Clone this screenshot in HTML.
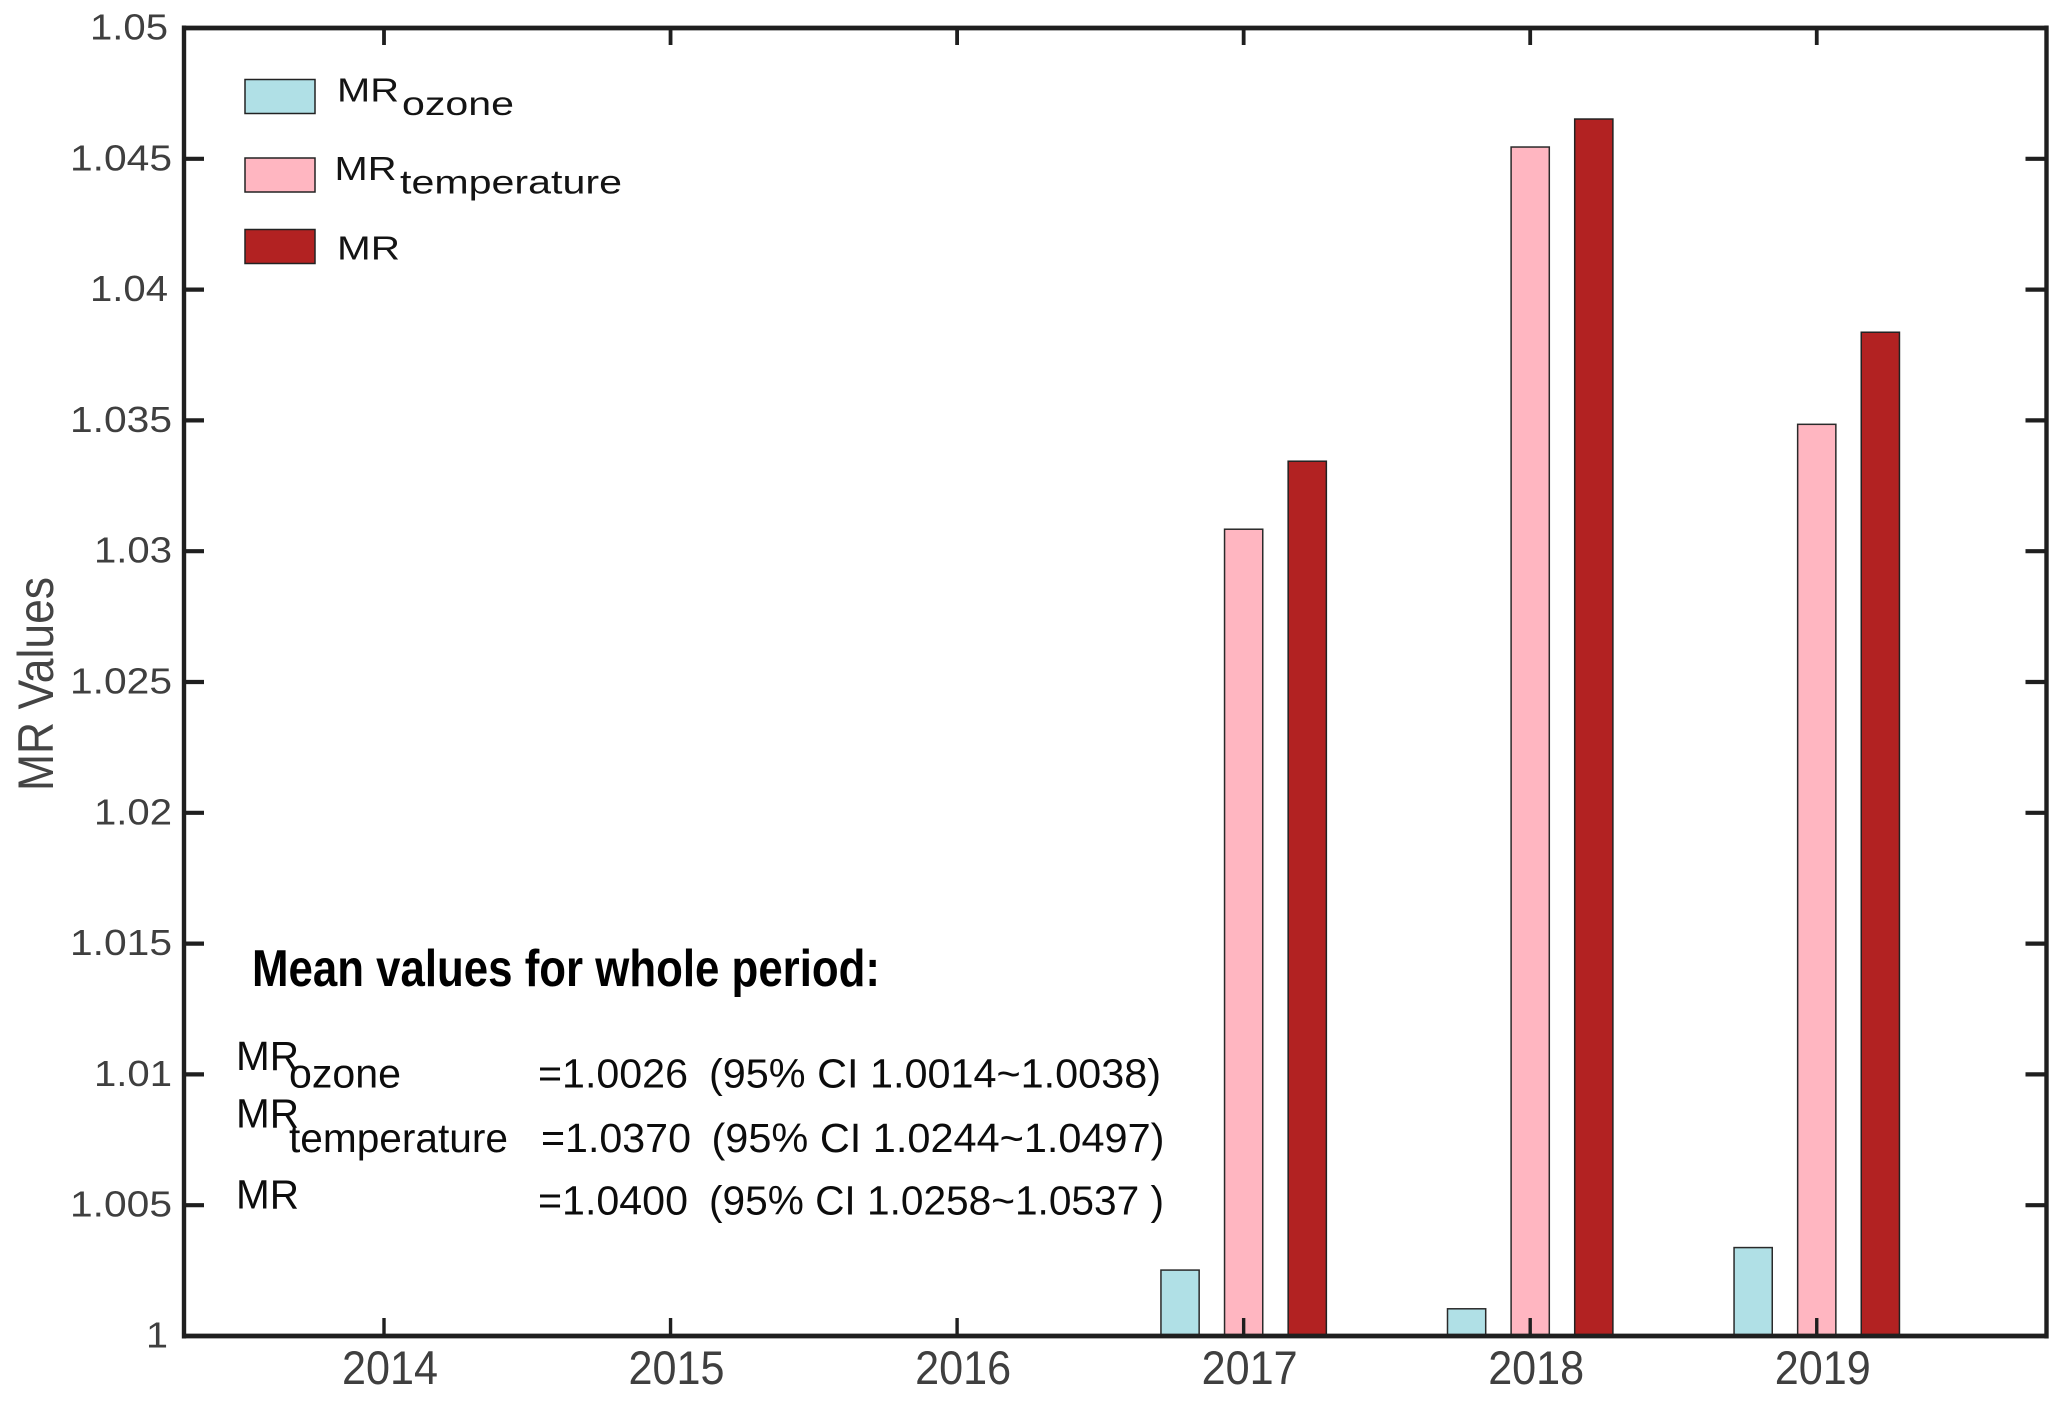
<!DOCTYPE html>
<html lang="en">
<head>
<meta charset="utf-8">
<title>MR Values by Year</title>
<style>
  html, body { margin: 0; padding: 0; background: #fff; }
  svg { display: block; font-family: "Liberation Sans", Arial, sans-serif; }
</style>
</head>
<body>
<svg id="chart" xmlns="http://www.w3.org/2000/svg" width="2067" height="1403" viewBox="0 0 2067 1403">
  <rect x="0" y="0" width="2067" height="1403" fill="#ffffff"/>
  <g id="bars"></g>
  <g id="axes"></g>
  <text transform="translate(53,684) rotate(-90)" text-anchor="middle" font-size="50" fill="#444444" textLength="214" lengthAdjust="spacingAndGlyphs">MR Values</text>

  <g fill="#141414">
    <g>
      <rect x="245" y="79.5" width="70" height="34" fill="#b0e0e6" stroke="#222" stroke-width="1.5"/>
      <text x="337" y="101.7" font-size="33" textLength="62" lengthAdjust="spacingAndGlyphs">MR</text>
      <text x="402" y="115" font-size="33" textLength="112" lengthAdjust="spacingAndGlyphs">ozone</text>
    </g>
    <g>
      <rect x="245" y="158" width="70" height="34" fill="#ffb6c1" stroke="#222" stroke-width="1.5"/>
      <text x="334.5" y="180" font-size="33" textLength="62" lengthAdjust="spacingAndGlyphs">MR</text>
      <text x="400" y="193.3" font-size="33" textLength="222" lengthAdjust="spacingAndGlyphs">temperature</text>
    </g>
    <g>
      <rect x="245" y="229.5" width="70" height="34" fill="#b22222" stroke="#222" stroke-width="1.5"/>
      <text x="337" y="259.3" font-size="33" textLength="63" lengthAdjust="spacingAndGlyphs">MR</text>
    </g>
  </g>

  <g fill="#0c0c0c">
    <text x="252" y="986" font-size="52" font-weight="bold" fill="#000" textLength="628" lengthAdjust="spacingAndGlyphs">Mean values for whole period:</text>

    <text x="236" y="1070" font-size="41" textLength="63" lengthAdjust="spacingAndGlyphs">MR</text>
    <text x="289" y="1087.5" font-size="41" textLength="112" lengthAdjust="spacingAndGlyphs">ozone</text>
    <text x="538" y="1087.5" font-size="41" textLength="150" lengthAdjust="spacingAndGlyphs">=1.0026</text>
    <text x="709" y="1087.5" font-size="41" textLength="452" lengthAdjust="spacingAndGlyphs">(95% CI 1.0014~1.0038)</text>

    <text x="236" y="1127.7" font-size="41" textLength="63" lengthAdjust="spacingAndGlyphs">MR</text>
    <text x="289" y="1152" font-size="41" textLength="219" lengthAdjust="spacingAndGlyphs">temperature</text>
    <text x="541" y="1152" font-size="41" textLength="150" lengthAdjust="spacingAndGlyphs">=1.0370</text>
    <text x="711.5" y="1152" font-size="41" textLength="453" lengthAdjust="spacingAndGlyphs">(95% CI 1.0244~1.0497)</text>

    <text x="236" y="1208.3" font-size="41" textLength="63" lengthAdjust="spacingAndGlyphs">MR</text>
    <text x="538" y="1214.3" font-size="41" textLength="150" lengthAdjust="spacingAndGlyphs">=1.0400</text>
    <text x="709" y="1214.3" font-size="41" textLength="455" lengthAdjust="spacingAndGlyphs">(95% CI 1.0258~1.0537 )</text>
  </g>
</svg>
<script>
const years = [2014, 2015, 2016, 2017, 2018, 2019];
const ozoneValues = [null, null, null, 1.00252, 1.00104, 1.00338];
const temperatureValues = [null, null, null, 1.03084, 1.04545, 1.03485];
const mrValues = [null, null, null, 1.03344, 1.04652, 1.03837];
const yTickValues = [1, 1.005, 1.01, 1.015, 1.02, 1.025, 1.03, 1.035, 1.04, 1.045, 1.05];
const yTickLabels = ['1', '1.005', '1.01', '1.015', '1.02', '1.025', '1.03', '1.035', '1.04', '1.045', '1.05'];

const NS = 'http://www.w3.org/2000/svg';
const plot = { left: 184, right: 2046.5, top: 28, bottom: 1336 };
const xScale = function (year) { return 384 + (year - 2014) * 286.55; };
const yScale = function (v) { return plot.bottom - (v - 1) / 0.05 * (plot.bottom - plot.top); };
const barWidth = 38.2;
const barGap = 63.6;

const barsLayer = document.getElementById('bars');
const axesLayer = document.getElementById('axes');

function makeLine(x1, y1, x2, y2, width) {
  const l = document.createElementNS(NS, 'line');
  l.setAttribute('x1', x1);
  l.setAttribute('y1', y1);
  l.setAttribute('x2', x2);
  l.setAttribute('y2', y2);
  l.setAttribute('stroke', '#1f1f1f');
  l.setAttribute('stroke-width', width);
  axesLayer.appendChild(l);
  return l;
}

function makeBar(year, value, offset, fill, stroke) {
  const top = yScale(value);
  const r = document.createElementNS(NS, 'rect');
  r.setAttribute('x', xScale(year) + offset - barWidth / 2);
  r.setAttribute('y', top);
  r.setAttribute('width', barWidth);
  r.setAttribute('height', plot.bottom - top);
  r.setAttribute('fill', fill);
  r.setAttribute('stroke', stroke);
  r.setAttribute('stroke-width', '1.5');
  barsLayer.appendChild(r);
  return r;
}

years.forEach(function (year, i) {
  if (ozoneValues[i] !== null) {
    const b = makeBar(year, ozoneValues[i], -barGap, '#b0e0e6', '#2a2a2a');
    
    
  }
  if (temperatureValues[i] !== null) {
    const b = makeBar(year, temperatureValues[i], 0, '#ffb6c1', '#2a2a2a');
    
    
  }
  if (mrValues[i] !== null) {
    const b = makeBar(year, mrValues[i], barGap, '#b22222', '#222222');
    
    
  }
});

/* x ticks and labels */
years.forEach(function (year) {
  const x = xScale(year);
  const bottomTick = makeLine(x, plot.bottom, x, plot.bottom - 18, 3.4);
  
  
  const topTick = makeLine(x, plot.top, x, plot.top + 17, 3.8);
  
  
  const t = document.createElementNS(NS, 'text');
  t.setAttribute('x', x + 6);
  t.setAttribute('y', 1384);
  t.setAttribute('text-anchor', 'middle');
  t.setAttribute('font-size', '47');
  t.setAttribute('fill', '#3f3f3f');
  t.setAttribute('textLength', '96');
  t.setAttribute('lengthAdjust', 'spacingAndGlyphs');
  t.textContent = year;
  
  
  axesLayer.appendChild(t);
});

/* y ticks and labels */
yTickValues.forEach(function (v, i) {
  const y = yScale(v);
  const label = yTickLabels[i];
  if (i > 0 && i < yTickValues.length - 1) {
    const leftTick = makeLine(plot.left, y, plot.left + 20, y, 4.2);
    
    
    const rightTick = makeLine(plot.right - 21, y, plot.right, y, 4.2);
    
    
  }
  const t = document.createElementNS(NS, 'text');
  const shortTop = (v >= 1.04 && label.length === 4) || v === 1;
  t.setAttribute('x', shortTop ? 168 : 172);
  t.setAttribute('y', y + 11.5);
  t.setAttribute('text-anchor', 'end');
  t.setAttribute('font-size', '36');
  t.setAttribute('fill', '#3f3f3f');
  t.setAttribute('textLength', label.length === 5 ? 102 : (label.length === 4 ? 78 : 22));
  t.setAttribute('lengthAdjust', 'spacingAndGlyphs');
  t.textContent = label;
  
  
  axesLayer.appendChild(t);
});

/* plot frame */
const frameLeft = makeLine(plot.left, plot.top - 2.5, plot.left, plot.bottom + 2.5, 4.4);


const frameRight = makeLine(plot.right, plot.top - 2.5, plot.right, plot.bottom + 2.5, 4.4);


const frameTop = makeLine(plot.left - 2, plot.top, plot.right + 2, plot.top, 4.8);


const frameBottom = makeLine(plot.left - 2, plot.bottom, plot.right + 2, plot.bottom, 4.8);


</script>
</body>
</html>
